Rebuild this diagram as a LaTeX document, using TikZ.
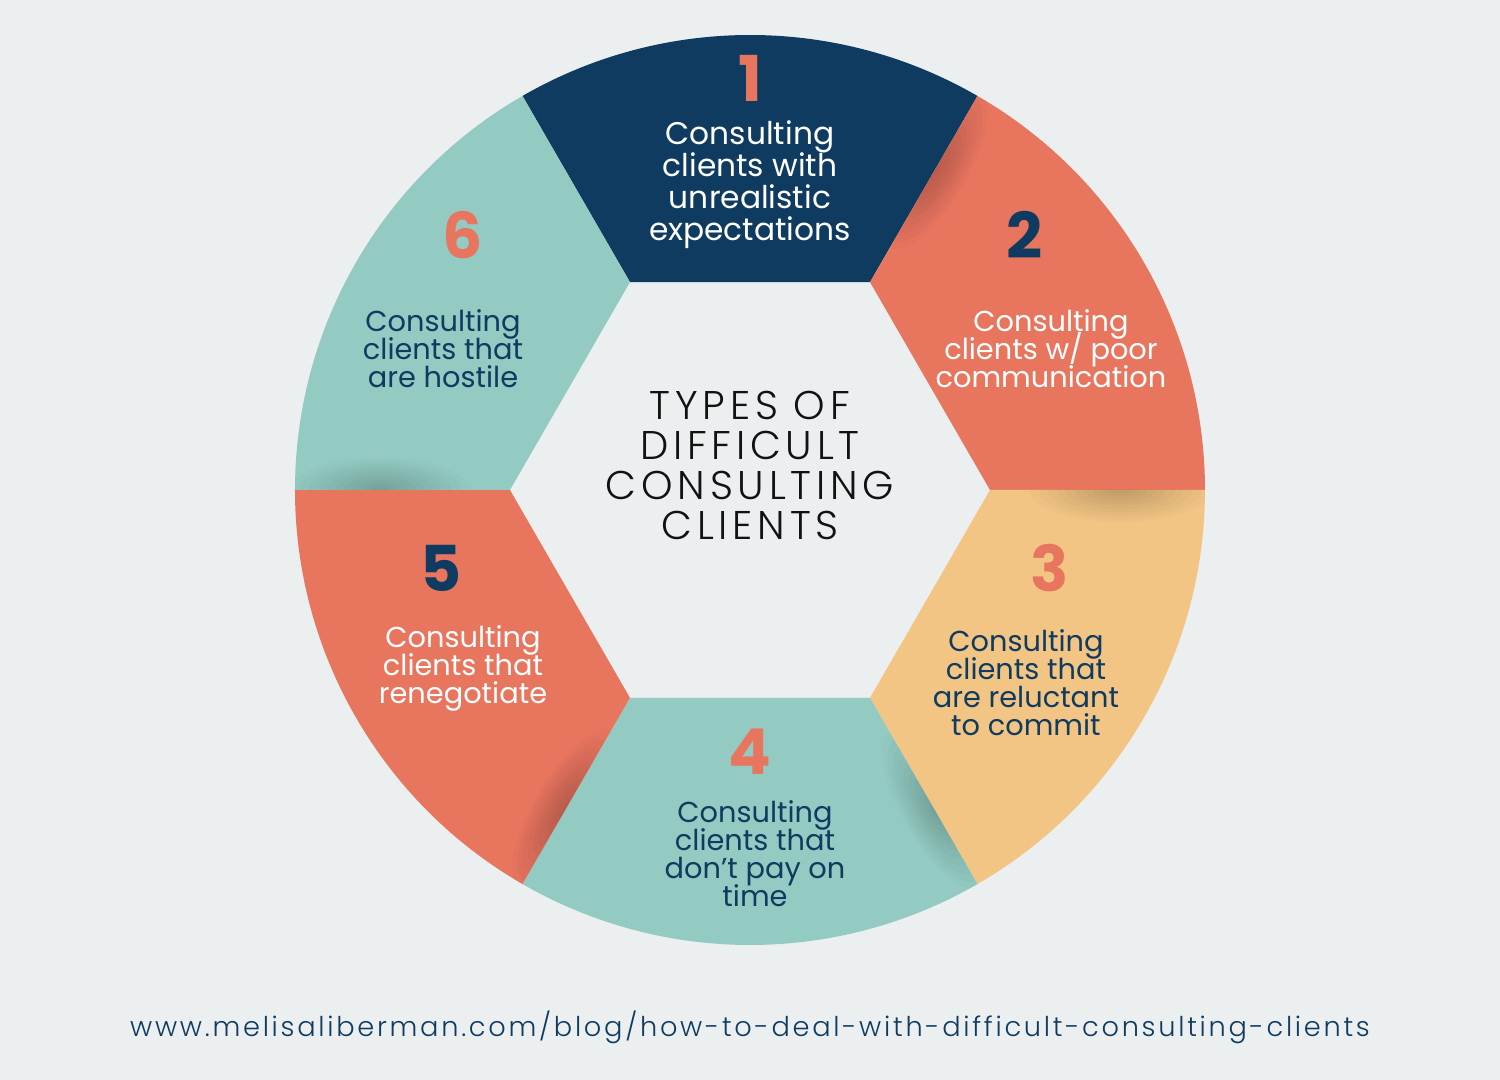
\documentclass[tikz,border=0pt]{standalone}
\usepackage{fontspec}
\setmainfont{Poppins}
\newfontfamily\titlefont[LetterSpace=12]{Poppins Light}
\newfontfamily\urlfont[LetterSpace=10]{Poppins Light}
\definecolor{navy}{HTML}{0F3B61}
\definecolor{coral}{HTML}{E8765F}
\definecolor{peach}{HTML}{F3C585}
\definecolor{teal}{HTML}{93CBC3}
\definecolor{paper}{HTML}{ECEFF0}
\definecolor{ink}{HTML}{121212}
\setlength{\lineskiplimit}{-100pt}
\tikzset{
  num/.style={font=\fontsize{18}{18}\selectfont\bfseries},
  txt/.style={align=center, font=\fontsize{8.2}{8}\selectfont},
  bigtxt/.style={align=center, font=\fontsize{8.9}{9.1}\selectfont},
}
\begin{document}
\begin{tikzpicture}[line join=round]
\def\rin{2.4}\def\rout{4.55}
\fill[paper] (-7.5,-5.9) rectangle (7.5,4.9);
\useasboundingbox (-7.5,-5.9) rectangle (7.5,4.9);
% ring of six sectors: start angle / colour
\foreach \a/\c in {60/navy,0/coral,-60/peach,-120/teal,-180/coral,120/teal}
  \fill[\c] (\a:\rin) -- (\a:\rout) arc[start angle=\a, end angle=\a+60, radius=\rout] -- (\a+60:\rin) -- cycle;
% soft shadows along the folds
\foreach \a in {0,-60,-120,-180,120} {
  \begin{scope}
    \clip (\a:\rin) -- (\a:\rout) arc[start angle=\a, end angle=\a+60, radius=\rout] -- (\a+60:\rin) -- cycle;
    \foreach \k in {1,...,10}
      \fill[black, opacity=.018, rotate=\a+60] (3.7,0) ellipse[x radius=0.09*\k, y radius=0.032*\k];
  \end{scope}
}
% numbers and labels
\node[num, coral] (n1) at (0,4.12) {1};
\node[bigtxt, white] (t1) at (0,3.05) {Consulting\\clients with\\unrealistic\\expectations};
\node[num, navy] (n2) at (2.75,2.55) {2};
\node[txt, white] (t2) at (3.01,1.41) {Consulting\\clients w/ poor\\communication};
\node[num, coral] (n3) at (3.0,-0.78) {3};
\node[txt, navy] (t3) at (2.76,-1.925) {Consulting\\clients that\\are reluctant\\to commit};
\node[num, coral] (n4) at (0,-2.62) {4};
\node[txt, navy] (t4) at (0.05,-3.635) {Consulting\\clients that\\don’t pay on\\time};
\node[num, navy] (n5) at (-3.09,-0.78) {5};
\node[txt, white] (t5) at (-2.87,-1.785) {Consulting\\clients that\\renegotiate};
\node[num, coral] (n6) at (-2.87,2.55) {6};
\node[txt, navy] (t6) at (-3.07,1.41) {Consulting\\clients that\\are hostile};
\node[align=center, ink, font=\titlefont\fontsize{11.4}{11.4}\selectfont] (title) at (0,0.245) {TYPES OF\\DIFFICULT\\CONSULTING\\CLIENTS};
\node[navy, font=\urlfont\fontsize{7.75}{8}\selectfont] (url) at (0,-5.37) {www.melisaliberman.com/blog/how-to-deal-with-difficult-consulting-clients};
\end{tikzpicture}
\end{document}
